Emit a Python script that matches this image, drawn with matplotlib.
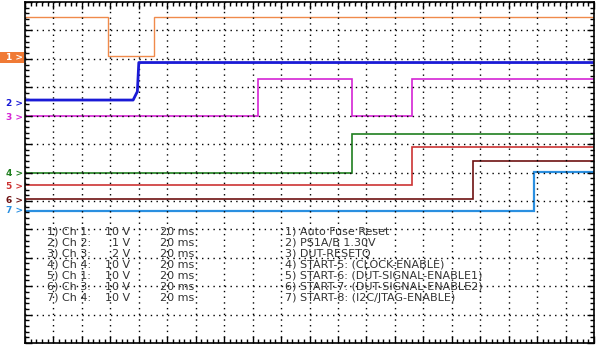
import matplotlib
matplotlib.use("Agg")
import matplotlib.pyplot as plt
from matplotlib.patches import Rectangle
from matplotlib.transforms import blended_transform_factory

# time base: 20 ms/div, 20 divisions; vertical: 12 divisions
t_max = 400

# step traces: edges (ms) and levels (divisions from bottom)
ch1_edges = [0, 58, 91, 400]
ch1_levels = [11.47, 10.10, 11.47]
ch2_t = [0, 76, 79, 80, 400]
ch2_v = [8.55, 8.55, 8.85, 9.87, 9.87]
ch3_edges = [0, 164, 230, 272, 400]
ch3_levels = [7.99, 9.29, 7.99, 9.29]
ch4_edges = [0, 230, 400]
ch4_levels = [6.00, 7.36]
ch5_edges = [0, 272, 400]
ch5_levels = [5.56, 6.90]
ch6_edges = [0, 315, 400]
ch6_levels = [5.07, 6.40]
ch7_edges = [0, 358, 400]
ch7_levels = [4.66, 6.02]

marker_labels = ["1", "2", "3", "4", "5", "6", "7"]
marker_levels = [10.05, 8.44, 7.95, 5.98, 5.49, 5.00, 4.65]
colors = ["#F08A4B", "#1A1AD6", "#D424D4", "#1F7F1F", "#CC3333", "#6E1212", "#2A8FE0"]

scope_rows = ["1) Ch 1:", "2) Ch 2:", "3) Ch 3:", "4) Ch 4:", "5) Ch 1:", "6) Ch 3:", "7) Ch 4:"]
volts = ["10 V", "1 V", "2 V", "10 V", "10 V", "10 V", "10 V"]
timebase = ["20 ms"] * 7
signal_names = ["1) Auto Fuse Reset", "2) PS1A/B 1.30V", "3) DUT-RESETQ",
                "4) START-5: (CLOCK-ENABLE)", "5) START-6: (DUT-SIGNAL-ENABLE1)",
                "6) START-7: (DUT-SIGNAL-ENABLE2)", "7) START-8: (I2C/JTAG-ENABLE)"]

fig = plt.figure(figsize=(6, 3.47), dpi=100)
ax = fig.add_axes([25 / 600, 4 / 347, 569 / 600, 341 / 347])
ax.set_xlim(0, t_max)
ax.set_ylim(0, 12)

ax.set_xticks(range(0, t_max + 1, 20))
ax.set_yticks(range(0, 13))
ax.set_xticks([x * 4 for x in range(0, 101)], minor=True)
ax.set_yticks([y * 0.2 for y in range(0, 61)], minor=True)
ax.tick_params(which="both", direction="in", top=True, right=True,
               labelbottom=False, labelleft=False, color="black")
ax.tick_params(which="major", length=5, width=1)
ax.tick_params(which="minor", length=3, width=1)
ax.grid(True, which="major", color="black", linestyle=(0, (1, 3.1)), linewidth=1)
for s in ax.spines.values():
    s.set_linewidth(1.2)

ax.stairs(ch1_levels, ch1_edges, baseline=None, color=colors[0], lw=1.0)
ax.plot(ch2_t, ch2_v, color=colors[1], lw=2.0)
ax.stairs(ch3_levels, ch3_edges, baseline=None, color=colors[2], lw=1.2)
ax.stairs(ch4_levels, ch4_edges, baseline=None, color=colors[3], lw=1.2)
ax.stairs(ch5_levels, ch5_edges, baseline=None, color=colors[4], lw=1.2)
ax.stairs(ch6_levels, ch6_edges, baseline=None, color=colors[5], lw=1.2)
ax.stairs(ch7_levels, ch7_edges, baseline=None, color=colors[6], lw=1.6)

# channel markers at the left edge
tr = blended_transform_factory(fig.transFigure, ax.transData)
ax.add_patch(Rectangle((0, marker_levels[0] - 0.19), 24 / 600, 0.38, transform=tr,
                       facecolor="#F07A35", edgecolor="none", clip_on=False))
for i, (lab, lev) in enumerate(zip(marker_labels, marker_levels)):
    c = "white" if i == 0 else colors[i]
    ax.text(23 / 600, lev, lab + " >", transform=tr, ha="right", va="center",
            fontsize=6.5, fontweight="bold", color=c, clip_on=False)

# annotation text
row0 = 3.91
step = 0.387
for i in range(7):
    y = row0 - i * step
    ax.text(15.5, y, scope_rows[i], fontsize=8, color="#333333", va="center")
    ax.text(74, y, volts[i], fontsize=8, color="#333333", va="center", ha="right")
    ax.text(95, y, timebase[i], fontsize=8, color="#333333", va="center")
    ax.text(183, y, signal_names[i], fontsize=8, color="#333333", va="center")

fig.savefig("out.png", dpi=100)
